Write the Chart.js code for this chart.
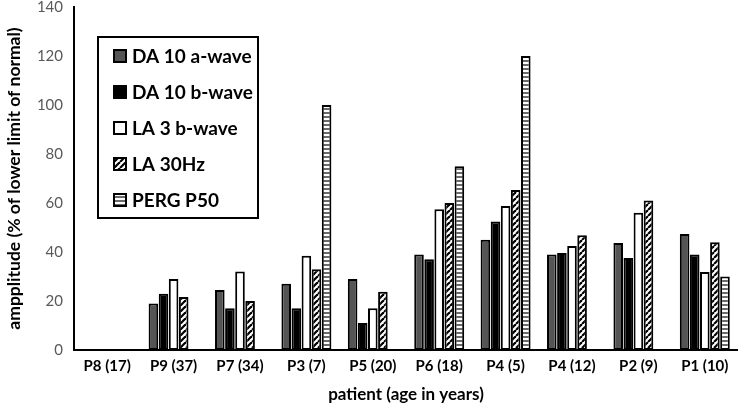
<!DOCTYPE html>
<html><head><meta charset="utf-8">
<script src="https://cdn.jsdelivr.net/npm/chart.js@4/dist/chart.umd.min.js"></script>
<style>html,body{margin:0;padding:0;background:#fff}#wrap{width:738px;height:409px}</style>
</head><body><div id="wrap"><canvas id="c" width="738" height="409"></canvas></div>
<script>
const categories = ["P8 (17)","P9 (37)","P7 (34)","P3 (7)","P5 (20)","P6 (18)","P4 (5)","P4 (12)","P2 (9)","P1 (10)"];
const seriesNames = ["DA 10 a-wave","DA 10 b-wave","LA 3 b-wave","LA 30Hz","PERG P50"];
const da10a = [null,19,24.5,27,29,39,45,39,43.7,47.3];
const da10b = [null,23,17,17,11,37,52.5,39.6,37.6,39];
const la3b  = [null,29,32,38.5,17,57.5,58.8,42.4,56,31.8];
const la30  = [null,21.6,20,33,23.8,60,65.3,46.8,61,44];
const perg  = [null,null,null,100,null,75,120,null,null,30];
const yTicks = [0,20,40,60,80,100,120,140];

function makePattern(draw, w, h){
  const c=document.createElement('canvas');c.width=w;c.height=h;
  const x=c.getContext('2d');draw(x,w,h);
  return x.createPattern(c,'repeat');
}
const hatch = makePattern((x,w,h)=>{
  x.fillStyle='#fff';x.fillRect(0,0,w,h);
  x.strokeStyle='#000';x.lineWidth=2.2;
  for(let k=-2;k<=2;k++){x.beginPath();x.moveTo(k*w,h);x.lineTo(k*w+w,0);x.stroke();}
},6,6);
const horiz = makePattern((x,w,h)=>{
  x.fillStyle='#fff';x.fillRect(0,0,w,h);
  x.fillStyle='#6a6a6a';x.fillRect(0,0,w,2);
},4,4);

const fills=['#555555','#000000','#ffffff',hatch,horiz];
const vals=[da10a,da10b,la3b,la30,perg];
const FONT='Lato';

const legendPlugin={
  id:'boxLegend',
  afterDraw(chart){
    const ctx=chart.ctx;
    const L=98,T=37,R=258,B=218;
    ctx.save();
    ctx.fillStyle='#fff';ctx.fillRect(L,T,R-L,B-T);
    ctx.strokeStyle='#000';ctx.lineWidth=2;ctx.strokeRect(L,T,R-L,B-T);
    seriesNames.forEach((n,i)=>{
      const cy=56+i*36;
      ctx.fillStyle=fills[i];
      ctx.fillRect(114,cy-6,12,12);
      ctx.strokeStyle='#000';ctx.lineWidth=2;ctx.strokeRect(114,cy-6,12,12);
      ctx.fillStyle='#000';ctx.font='bold 19px '+FONT;ctx.textBaseline='middle';ctx.textAlign='left';
      ctx.fillText(n,132,cy+1);
    });
    ctx.restore();
  }
};

new Chart(document.getElementById('c'),{
  type:'bar',
  data:{labels:categories,datasets:seriesNames.map((n,i)=>({
    label:n,data:vals[i],backgroundColor:fills[i],borderColor:'#000',borderWidth:2,borderSkipped:false,
    barPercentage:0.95,categoryPercentage:0.76
  }))},
  options:{
    responsive:false,animation:false,
    layout:{padding:{top:7,right:0,left:0,bottom:0}},
    plugins:{legend:{display:false},tooltip:{enabled:false}},
    scales:{
      x:{
        grid:{display:false,drawTicks:false},border:{display:true,color:'#000',width:2},
        ticks:{font:{family:FONT,size:15,weight:'bold'},color:'#000',padding:7,maxRotation:0},
        title:{display:true,text:'patient (age in years)',font:{family:FONT,size:17,weight:'bold'},color:'#000',padding:{top:4}},
        afterFit(s){s.height=59;s.paddingLeft=0;s.paddingRight=0;}
      },
      y:{
        min:0,max:140,
        grid:{display:false,drawTicks:false},border:{display:true,color:'#000',width:2},
        afterBuildTicks(s){s.ticks=yTicks.map(v=>({value:v}));},
        ticks:{font:{family:FONT,size:15},color:'#595959',padding:11},
        title:{display:true,text:'ampplitude (% of lower limit of normal)',font:{family:FONT,size:17.5,weight:'bold'},color:'#000',padding:{top:4,bottom:2}},
        afterFit(s){s.width=74;s.paddingTop=0;s.paddingBottom=0;}
      }
    }
  },
  plugins:[legendPlugin]
});
</script></body></html>
